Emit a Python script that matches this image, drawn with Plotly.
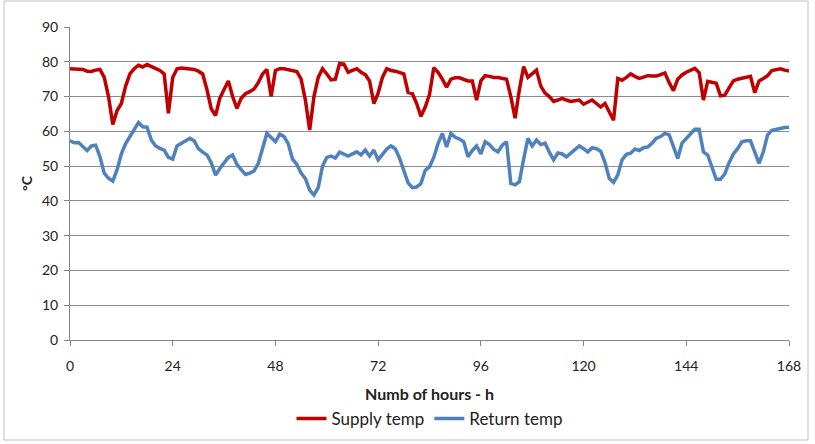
import plotly.graph_objects as go

hours = list(range(0, 169))

supply_temp = [
    78.0, 78.0, 78.0, 77.8, 77.3, 77.2, 77.6, 77.8, 75.5, 70.0, 62.0, 66.0,
    68.0, 73.0, 76.5, 78.0, 79.0, 78.5, 79.2, 78.6, 78.2, 77.5, 76.5, 65.2,
    75.5, 78.0, 78.2, 78.0, 77.8, 77.8, 77.3, 76.5, 72.0, 66.5, 64.5, 69.5,
    72.0, 74.5, 70.0, 66.6, 69.5, 70.8, 71.4, 72.2, 74.0, 76.5, 77.8, 70.0,
    77.5, 78.0, 78.0, 77.8, 77.6, 77.2, 75.0, 69.0, 60.4, 70.0, 75.5, 78.0,
    76.5, 74.8, 75.0, 79.5, 79.3, 77.0, 77.5, 78.0, 77.0, 76.3, 74.5, 68.0,
    71.0, 75.5, 78.0, 77.5, 77.3, 77.0, 76.5, 71.2, 70.8, 68.0, 64.3, 67.0,
    70.6, 78.3, 77.0, 75.0, 72.7, 75.0, 75.4, 75.4, 75.0, 74.5, 74.5, 69.0,
    74.5, 76.0, 75.8, 75.5, 75.5, 75.3, 75.0, 70.0, 63.8, 72.0, 78.6, 75.5,
    76.5, 77.6, 73.0, 71.0, 70.0, 68.6, 69.0, 69.5, 69.0, 68.6, 68.8, 69.0,
    67.8, 68.5, 69.0, 68.0, 67.0, 68.0, 65.5, 63.2, 75.2, 74.7, 75.5, 76.5,
    75.8, 75.2, 75.6, 76.0, 75.9, 75.9, 76.3, 76.8, 74.0, 71.7, 75.0, 76.2,
    77.0, 77.6, 78.1, 76.9, 69.0, 74.4, 74.0, 73.8, 70.2, 70.4, 72.5, 74.5,
    75.0, 75.2, 75.4, 75.8, 71.1, 74.5, 75.2, 76.0, 77.5, 77.8, 78.0, 77.6,
    77.3,
]

return_temp = [
    57.3, 56.7, 56.8, 55.6, 54.5, 55.8, 56.0, 52.7, 48.0, 46.5, 45.7, 49.0,
    53.5, 56.5, 58.5, 60.5, 62.5, 61.3, 61.2, 57.5, 55.8, 55.1, 54.6, 52.5,
    52.0, 55.8, 56.5, 57.2, 58.0, 57.3, 55.0, 54.0, 53.2, 51.0, 47.4, 49.3,
    51.0, 52.5, 53.2, 50.5, 49.0, 47.6, 48.0, 48.6, 50.8, 55.5, 59.4, 58.2,
    57.0, 59.2, 58.5, 56.4, 52.0, 50.5, 48.0, 46.4, 43.1, 41.7, 43.8, 50.0,
    52.5, 52.9, 52.3, 54.0, 53.5, 52.9, 53.5, 54.1, 53.2, 54.6, 52.9, 54.6,
    51.8, 53.5, 54.9, 55.8, 55.0, 52.3, 48.8, 45.2, 43.8, 44.0, 45.0, 48.8,
    49.8, 52.5, 56.5, 59.4, 55.5, 59.4, 58.3, 57.8, 57.0, 52.7, 54.5, 55.8,
    53.5, 57.0, 56.2, 54.8, 54.1, 56.0, 57.0, 45.0, 44.6, 45.5, 52.0, 58.0,
    55.8, 57.5, 56.2, 56.6, 54.0, 51.8, 53.8, 53.5, 52.7, 53.8, 54.6, 55.8,
    55.0, 54.1, 55.3, 55.0, 54.3, 51.0, 46.5, 45.3, 47.5, 51.8, 53.4, 53.7,
    54.9, 54.5, 55.3, 55.5, 56.6, 58.0, 58.5, 59.4, 59.0, 55.8, 52.2, 56.6,
    58.0, 59.5, 60.6, 60.6, 54.1, 53.2, 50.0, 46.2, 46.2, 47.8, 51.0, 53.5,
    55.0, 57.0, 57.3, 57.3, 54.0, 50.8, 54.1, 59.0, 60.3, 60.6, 61.0, 61.1,
    61.2,
]

x_ticks = [0, 24, 48, 72, 96, 120, 144, 168]
y_ticks = list(range(0, 91, 10))

FONT = "Lato, 'DejaVu Sans', sans-serif"
W, H = 815, 444
ML, MR, MT, MB = 70, 26, 27, 104
PW, PH = W - ML - MR, H - MT - MB


def px_to_paper_x(px):
    return (px - ML) / PW


def px_to_paper_y(py):
    return (H - MB - py) / PH


fig = go.Figure()
fig.add_trace(go.Scatter(
    x=hours[:len(supply_temp)], y=supply_temp, mode="lines", name="Supply temp",
    line=dict(color="#C00000", width=3.5),
))
fig.add_trace(go.Scatter(
    x=hours[:len(return_temp)], y=return_temp, mode="lines", name="Return temp",
    line=dict(color="#4F81BD", width=3.5),
))

fig.update_layout(
    width=W, height=H,
    margin=dict(l=ML, r=MR, t=MT, b=MB, autoexpand=False),
    paper_bgcolor="white", plot_bgcolor="white",
    font=dict(family=FONT, size=14, color="#222222"),
    showlegend=True,
    legend=dict(
        orientation="h", x=0.5, xanchor="center",
        y=px_to_paper_y(419), yanchor="middle",
        font=dict(family=FONT, size=17, color="#222222"),
        itemwidth=30, tracegroupgap=0,
    ),
    xaxis=dict(
        range=[0, 168], tickvals=x_ticks, ticktext=[str(t) for t in x_ticks],
        showgrid=False, zeroline=False, showline=True, linecolor="#868686",
        linewidth=1, ticks="outside", ticklen=5, tickcolor="#868686",
        ticklabelstandoff=8,
        tickfont=dict(family=FONT, size=14, color="#222222"),
        title=dict(text="<b>Numb of hours - h</b>", standoff=16,
                   font=dict(family=FONT, size=16, color="#222222")),
        fixedrange=True,
    ),
    yaxis=dict(
        range=[0, 90], tickvals=y_ticks,
        showgrid=True, gridcolor="#8c8c8c", gridwidth=1,
        zeroline=False, showline=True, linecolor="#868686", linewidth=1,
        ticks="outside", ticklen=5, tickcolor="#868686",
        ticklabelstandoff=3,
        tickfont=dict(family=FONT, size=14, color="#222222"),
        title=dict(text="<b>°C</b>", standoff=6,
                   font=dict(family=FONT, size=14, color="#222222")),
        fixedrange=True,
    ),
    shapes=[dict(
        type="rect", xref="paper", yref="paper",
        x0=px_to_paper_x(4), x1=px_to_paper_x(808),
        y0=px_to_paper_y(440), y1=px_to_paper_y(1),
        line=dict(color="#bfbfbf", width=1), fillcolor="rgba(0,0,0,0)",
        layer="below",
    )],
)

fig.write_html("out.html")
